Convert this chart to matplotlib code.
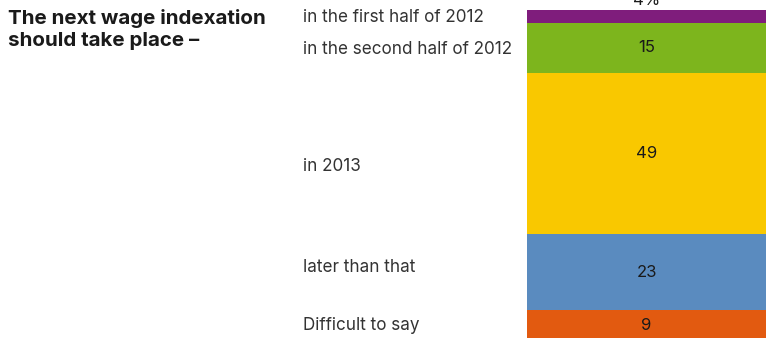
import numpy as np
import matplotlib
matplotlib.use('Agg')
import matplotlib.pyplot as plt
import matplotlib.transforms as mtransforms

categories = ["in the first half of 2012", "in the second half of 2012",
              "in 2013", "later than that", "Difficult to say"]
values = [4, 15, 49, 23, 9]
value_labels = ["4%", "15", "49", "23", "9"]
colors = ["#7f1d7c", "#7db51d", "#f9c800", "#5a8bbf", "#e25a10"]

plt.rcParams['font.family'] = ['Inter', 'DejaVu Sans']

fig = plt.figure(figsize=(7.66, 3.38), dpi=100)
ax = fig.add_axes([527 / 766, 0, 1 - 527 / 766, 1])

starts = np.concatenate([[0], np.cumsum(values)[:-1]])
for s, v, c in zip(starts, values, colors):
    ax.bar(0, v, bottom=s, width=1.0, color=c, edgecolor='none')

ax.set_xlim(-0.5, 0.5)
ax.set_ylim(99.4, -3.03)
ax.axis('off')

# category labels sit left of the bar, roughly level with each segment
shift = [0.3, 0.5, 4, -1.5, 0]
trans = mtransforms.blended_transform_factory(fig.transFigure, ax.transData)
for i, (s, v, lab, cat) in enumerate(zip(starts, values, value_labels, categories)):
    mid = s + v / 2
    if i == 0:
        ax.text(0, s - 0.6, lab, ha='center', va='bottom', fontsize=12, color='#1a1a1a')
    else:
        ax.text(0, mid, lab, ha='center', va='center', fontsize=12, color='#1a1a1a')
    ax.text(303 / 766, mid + shift[i], cat, transform=trans, ha='left', va='center',
            fontsize=12.3, color='#333333')

fig.text(8 / 766, 1 - 9 / 338, "The next wage indexation\nshould take place \u2013",
         ha='left', va='top', fontsize=14.8, fontweight='bold', color='#1a1a1a',
         linespacing=1.3)

fig.savefig("out.png", dpi=100)
